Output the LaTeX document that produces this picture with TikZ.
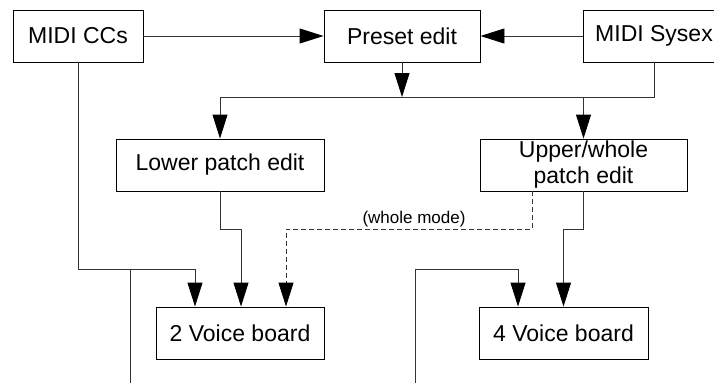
\documentclass[tikz,border=0pt]{standalone}
\usepackage{fontspec}
\setmainfont{Liberation Sans}
\usetikzlibrary{arrows.meta}
\begin{document}
\begin{tikzpicture}[x=1pt,y=-1pt,
  box/.style={draw=black,line width=0.9pt,minimum height=52pt,inner sep=0pt,
    font=\fontsize{23}{26}\selectfont,align=center},
  wire/.style={draw=black!80,line width=0.9pt},
  arr/.style={wire,-{Triangle[length=24pt,width=15pt,color=black]}},
  dsh/.style={arr,dash pattern=on 5pt off 3pt}]
\useasboundingbox (0,0) rectangle (714,383);
\clip (0,0) rectangle (714,383);

% blocks
\node[box,minimum width=130pt] (cc)     at (78,36)    {MIDI CCs};
\node[box,minimum width=156pt] (preset) at (402,36)   {Preset edit};
\node[box,minimum width=142pt] (sysex)  at (654,36)   {MIDI Sysex};
\node[box,minimum width=208pt] (lower)  at (220,165)  {Lower patch edit};
\node[box,minimum width=207pt] (upper)  at (583.5,165){Upper/whole\\patch edit};
\node[box,minimum width=168pt] (v2)     at (240,333)  {2 Voice board};
\node[box,minimum width=169pt] (v4)     at (563.5,333){4 Voice board};

% routing levels
\coordinate (bus)  at (0,97);
\coordinate (mid)  at (0,229);
\coordinate (low)  at (0,269);
\coordinate (outL) at (130,383);
\coordinate (outR) at (415,383);

% top row
\draw[arr] (cc.east) -- (preset.west);
\draw[arr] (sysex.west) -- (preset.east);
\draw[arr] (preset.south) -- (preset.south |- bus);
\draw[arr] (sysex.south) |- (bus -| lower.north) -- (lower.north);
\draw[arr] (bus -| upper.north) -- (upper.north);

% patch edits to voice boards
\draw[arr] (lower.south) |- ([xshift=1pt]v2.north |- mid) -- ([xshift=1pt]v2.north);
\draw[dsh] ([xshift=-51.5pt]upper.south) |- ([xshift=46pt]v2.north |- mid)
  -- ([xshift=46pt]v2.north);
\node[font=\fontsize{17}{20}\selectfont,anchor=base] (wm) at (414,223) {(whole mode)};
\draw[arr] (upper.south) |- (v4.north |- mid) -- (v4.north);

% MIDI CC distribution
\draw[arr] (cc.south) |- ([xshift=-45pt]v2.north |- low) -- ([xshift=-45pt]v2.north);
\draw[wire] (outL |- low) -- (outL);
\draw[arr] (outR) |- ([xshift=-45.5pt]v4.north |- low) -- ([xshift=-45.5pt]v4.north);
\end{tikzpicture}
\end{document}
